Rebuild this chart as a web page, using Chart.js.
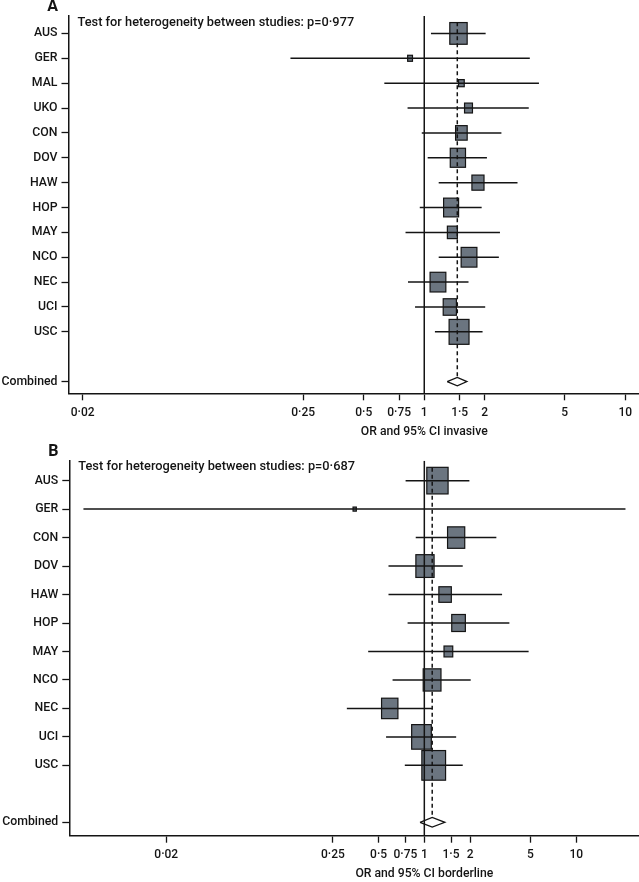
<!DOCTYPE html>
<html>
<head>
<meta charset="utf-8">
<script src="https://cdn.jsdelivr.net/npm/chart.js@4.4.1/dist/chart.umd.min.js"></script>
<style>
  body { margin: 0; background: #fff; }
  canvas { display: block; }
</style>
</head>
<body>
<canvas id="chartA" width="639" height="440"></canvas>
<canvas id="chartB" width="639" height="442"></canvas>
<script>
// panel A: invasive
var studiesA = ["AUS", "GER", "MAL", "UKO", "CON", "DOV", "HAW", "HOP", "MAY", "NCO", "NEC", "UCI", "USC"];
var orA = [1.48, 0.85, 1.53, 1.66, 1.53, 1.47, 1.85, 1.36, 1.38, 1.67, 1.17, 1.34, 1.49];
var lowerA = [1.08, 0.216, 0.633, 0.826, 0.972, 1.04, 1.18, 0.95, 0.807, 1.18, 0.83, 0.90, 1.13];
var upperA = [2.02, 3.35, 3.72, 3.31, 2.42, 2.05, 2.91, 1.93, 2.38, 2.35, 1.66, 2.01, 1.95];
var weightA = [13.0, 1.0, 1.4, 2.7, 5.8, 10.0, 6.3, 9.7, 4.3, 10.7, 10.7, 7.5, 17.1];
var combinedA = [1.30, 1.46, 1.63]; // lower, OR, upper
var pHetA = "0·977";

// panel B: borderline
var studiesB = ["AUS", "GER", "CON", "DOV", "HAW", "HOP", "MAY", "NCO", "NEC", "UCI", "USC"];
var orB = [1.22, 0.348, 1.62, 1.01, 1.37, 1.68, 1.44, 1.125, 0.592, 0.958, 1.153];
var lowerB = [0.753, 0.0057, 0.878, 0.581, 0.581, 0.776, 0.427, 0.618, 0.309, 0.56, 0.744];
var upperB = [1.98, 21.1, 2.98, 1.79, 3.25, 3.63, 4.86, 2.02, 1.125, 1.62, 1.79];
var weightB = [14.9, 0.35, 9.7, 10.9, 5.1, 6.1, 2.5, 10.4, 8.8, 12.7, 18.5];
var combinedB = [0.937, 1.127, 1.365];
var pHetB = "0·687";

var xTicks = [0.02, 0.25, 0.5, 0.75, 1, 1.5, 2, 5, 10];

var FONT = "Roboto, 'Liberation Sans', sans-serif";
var INK = "#141414";
var BOX_FILL = "#6b7580";

function fmtTick(v) {
  return String(v).replace(".", "\u00b7");
}

function makeForest(canvasId, cfg) {
  var n = cfg.studies.length;
  var combinedRow = n + 1;
  var yMin = -0.7;
  var yMax = combinedRow + 0.47;
  var rows = [];
  var labels = {};
  for (var i = 0; i < n; i++) {
    rows.push(i);
    labels[i] = cfg.studies[i];
  }
  rows.push(combinedRow);
  labels[combinedRow] = "Combined";

  var datasets = [];
  // confidence intervals
  for (var i = 0; i < n; i++) {
    datasets.push({
      data: [{ x: cfg.lower[i], y: i }, { x: cfg.upper[i], y: i }],
      borderColor: INK,
      borderWidth: 1.5,
    });
  }
  // line of no effect
  datasets.push({
    data: [{ x: 1, y: yMin }, { x: 1, y: yMax }],
    borderColor: INK,
    borderWidth: 1.5,
  });
  // pooled estimate, dashed
  datasets.push({
    data: [{ x: cfg.combined[1], y: -0.45 }, { x: cfg.combined[1], y: combinedRow - 0.17 }],
    borderColor: INK,
    borderWidth: 1.5,
    borderDash: [4, 3],
  });
  // diamond
  datasets.push({
    data: [
      { x: cfg.combined[0], y: combinedRow },
      { x: cfg.combined[1], y: combinedRow - 0.17 },
      { x: cfg.combined[2], y: combinedRow },
      { x: cfg.combined[1], y: combinedRow + 0.17 },
      { x: cfg.combined[0], y: combinedRow },
    ],
    borderColor: INK,
    borderWidth: 1.3,
    backgroundColor: "#fff",
  });

  var forest = {
    id: "forest",
    beforeDatasetsDraw: function (chart) {
      var ctx = chart.ctx;
      var xs = chart.scales.x;
      var ys = chart.scales.y;
      var rowPx = Math.abs(ys.getPixelForValue(1) - ys.getPixelForValue(0));
      ctx.save();
      ctx.fillStyle = BOX_FILL;
      ctx.strokeStyle = INK;
      ctx.lineWidth = 1.2;
      for (var i = 0; i < n; i++) {
        var cx = xs.getPixelForValue(cfg.or[i]);
        var cy = ys.getPixelForValue(i);
        var h = 0.242 * Math.sqrt(cfg.weight[i]) * rowPx;
        var w = h * 0.8;
        ctx.fillRect(cx - w / 2, cy - h / 2, w, h);
        ctx.strokeRect(cx - w / 2, cy - h / 2, w, h);
      }
      ctx.restore();
    },
    afterDraw: function (chart) {
      var ctx = chart.ctx;
      var area = chart.chartArea;
      var xs = chart.scales.x;
      ctx.save();
      ctx.fillStyle = INK;
      ctx.textBaseline = "middle";
      ctx.textAlign = "center";
      ctx.font = "bold 16px " + FONT;
      ctx.fillText(cfg.letter, area.left - 16, area.top - 9);
      ctx.textAlign = "left";
      ctx.font = "500 12.8px " + FONT;
      ctx.fillText("Test for heterogeneity between studies: p=" + cfg.pHet, area.left + 9, area.top + 6.5);
      ctx.textAlign = "center";
      ctx.font = "500 12.2px " + FONT;
      ctx.fillText(cfg.xTitle, xs.getPixelForValue(1), area.bottom + 38.5);
      ctx.restore();
    },
  };

  return new Chart(document.getElementById(canvasId), {
    type: "scatter",
    data: { datasets: datasets },
    plugins: [forest],
    options: {
      responsive: false,
      animation: false,
      showLine: true,
      elements: { point: { radius: 0, hoverRadius: 0 } },
      layout: { padding: { top: cfg.padTop, left: 0, right: 0, bottom: 0 } },
      plugins: { legend: { display: false }, tooltip: { enabled: false } },
      scales: {
        x: {
          type: "logarithmic",
          min: cfg.xMin,
          max: cfg.xMax,
          afterBuildTicks: function (scale) {
            scale.ticks = xTicks.map(function (v) {
              return { value: v };
            });
          },
          afterFit: function (scale) {
            scale.height = cfg.xAxisHeight;
          },
          border: { display: true, color: INK, width: 1.5 },
          grid: { drawOnChartArea: false, drawTicks: true, tickLength: 7, tickColor: INK, tickWidth: 1.3 },
          ticks: {
            autoSkip: false,
            maxRotation: 0,
            color: INK,
            padding: 5,
            font: { family: FONT, size: 12, weight: "500" },
            callback: function (value) {
              return fmtTick(value);
            },
          },
        },
        y: {
          type: "linear",
          reverse: true,
          min: yMin,
          max: yMax,
          afterBuildTicks: function (scale) {
            scale.ticks = rows.map(function (r) {
              return { value: r };
            });
          },
          afterFit: function (scale) {
            scale.width = cfg.yAxisWidth;
          },
          border: { display: true, color: INK, width: 1.5 },
          grid: { drawOnChartArea: false, drawTicks: true, tickLength: 7, tickColor: INK, tickWidth: 1.3 },
          ticks: {
            color: INK,
            padding: 4,
            font: { family: FONT, size: 12.3, weight: "500" },
            callback: function (value) {
              return labels[value];
            },
          },
        },
      },
    },
  });
}

makeForest("chartA", {
  letter: "A",
  studies: studiesA,
  or: orA,
  lower: lowerA,
  upper: upperA,
  weight: weightA,
  combined: combinedA,
  pHet: pHetA,
  xTitle: "OR and 95% CI invasive",
  xMin: 0.017,
  xMax: 11.7,
  padTop: 16,
  yAxisWidth: 68.5,
  xAxisHeight: 46.7,
});

makeForest("chartB", {
  letter: "B",
  studies: studiesB,
  or: orB,
  lower: lowerB,
  upper: upperB,
  weight: weightB,
  combined: combinedB,
  pHet: pHetB,
  xTitle: "OR and 95% CI borderline",
  xMin: 0.0046,
  xMax: 25.9,
  padTop: 20.7,
  yAxisWidth: 69.3,
  xAxisHeight: 46.3,
});
</script>
</body>
</html>
